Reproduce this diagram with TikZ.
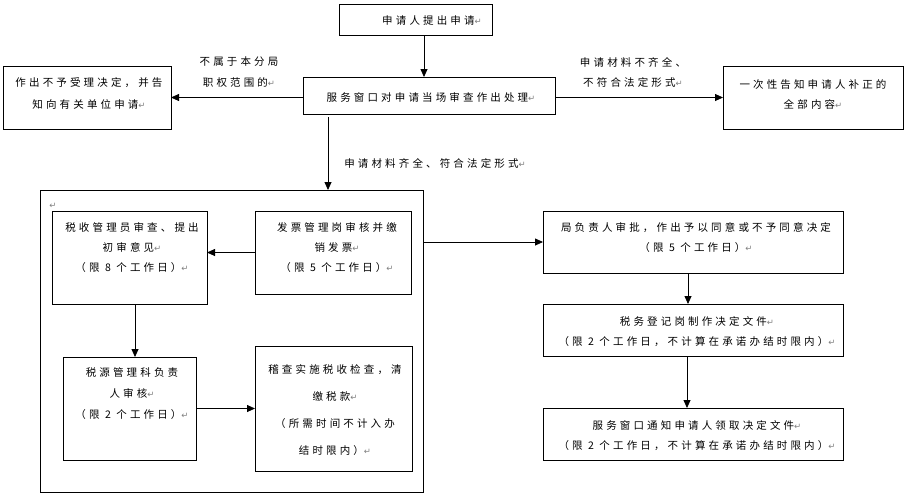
\documentclass[tikz,border=0pt]{standalone}
\usepackage{fontspec}
\usetikzlibrary{arrows.meta}
\newfontfamily\cjk[LetterSpace=30]{Noto Sans CJK SC}
\newfontfamily\retfont{DejaVu Sans}
\newcommand\parret{{\retfont\fontsize{8.5}{8.5}\selectfont\textcolor{gray}{↵}}}
\begin{document}
\begin{tikzpicture}[x=1pt,y=-1pt,
  box/.style={draw, line width=0.8pt, inner sep=0pt, outer sep=0pt},
  txt/.style={font=\cjk\fontsize{10.5}{#1}\selectfont, align=center, inner sep=0pt},
  txt/.default=20,
  arr/.style={-{Triangle[length=8pt,width=7pt]}, line width=0.8pt}]
\useasboundingbox (0,0) rectangle (910,496);
% boxes
\node[box, minimum width=153, minimum height=31] (top) at (415.5,19.5) {};
\node[box, minimum width=252, minimum height=37] (mid) at (429,95.5) {};
\node[box, minimum width=168, minimum height=63] (left) at (87,97.5) {};
\node[box, minimum width=180, minimum height=63] (right) at (813,97.5) {};
\node[box, minimum width=383, minimum height=302] (big) at (231.5,341) {};
\node[box, minimum width=155, minimum height=93] (A) at (129.5,257.5) {};
\node[box, minimum width=156, minimum height=83] (B) at (333,252.5) {};
\node[box, minimum width=133, minimum height=103] (C) at (129.5,408.5) {};
\node[box, minimum width=157, minimum height=125] (D) at (333.5,408.5) {};
\node[box, minimum width=300, minimum height=62] (E) at (693,242) {};
\node[box, minimum width=300, minimum height=52] (F) at (693,330) {};
\node[box, minimum width=300, minimum height=52] (G) at (693,434) {};
% texts
\node[txt] (ttop) at (432,21) {申请人提出申请\parret};
\node[txt] (tmid) at (431,97) {服务窗口对申请当场审查作出处理\parret};
\node[txt=22] (tleft) at (89,93) {作出不予受理决定，并告\\知向有关单位申请\parret};
\node[txt=21] (lleft) at (239,72.5) {不属于本分局\\职权范围的\parret};
\node[txt] (lright) at (633,72) {申请材料不齐全、\\不符合法定形式\parret};
\node[txt] (tright) at (813,94) {一次性告知申请人补正的\\全部内容\parret};
\node[txt] (ldown) at (435,163) {申请材料齐全、符合法定形式\parret};
\node[inner sep=0pt] (bigret) at (53,206) {\parret};
\node[txt] (tA) at (132,248) {税收管理员审查、提出\\初审意见\parret\\（限 8 个工作日）\parret};
\node[txt] (tB) at (337,248) {发票管理岗审核并缴\\销发票\parret\\（限 5 个工作日）\parret};
\node[txt=21] (tC) at (132,394) {税源管理科负责\\人审核\parret\\（限 2 个工作日）\parret};
\node[txt=27] (tD) at (335,410) {稽查实施税收检查，清\\缴税款\parret\\（所需时间不计入办\\结时限内）\parret};
\node[txt] (tE) at (696,238) {局负责人审批，作出予以同意或不予同意决定\\（限 5 个工作日）\parret};
\node[txt] (tF) at (697,332) {税务登记岗制作决定文件\parret\\（限 2 个工作日，不计算在承诺办结时限内）\parret};
\node[txt] (tG) at (697,436) {服务窗口通知申请人领取决定文件\parret\\（限 2 个工作日，不计算在承诺办结时限内）\parret};
% connectors
\draw[arr] ([xshift=8.5pt]top.south) -- ([xshift=-5pt]mid.north);
\draw[arr] (mid.west |- left.east) -- (left.east);
\draw[arr] (mid.east |- right.west) -- (right.west);
\coordinate (m1) at ([xshift=-101pt,yshift=-3pt]mid.south);
\draw[arr] (m1) -- (m1 |- big.north);
\draw[arr] (big.east |- E.west) -- (E.west);
\draw[arr] (B.west) -- (B.west -| A.east);
\coordinate (a1) at ([xshift=5.5pt]A.south);
\draw[arr] (a1) -- (a1 |- C.north);
\draw[arr] (C.east) -- (C.east -| D.west);
\draw[arr] ([xshift=-5pt]E.south) -- ([xshift=-5pt]F.north);
\draw[arr] ([xshift=-6pt]F.south) -- ([xshift=-6pt]G.north);
\end{tikzpicture}
\end{document}
